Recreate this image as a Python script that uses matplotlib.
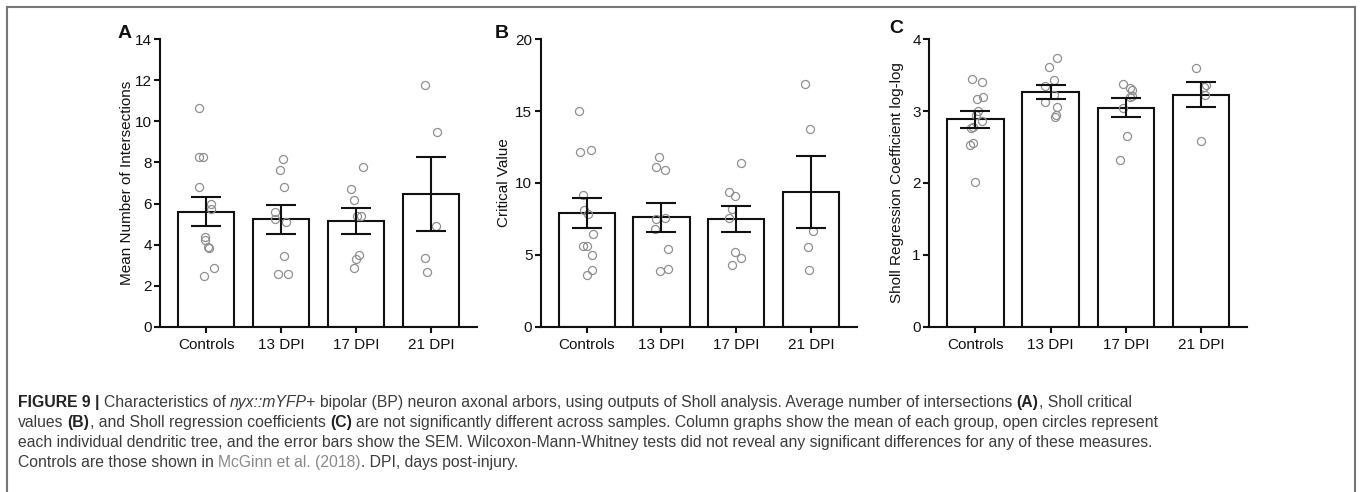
import matplotlib
matplotlib.use('Agg')
import matplotlib.pyplot as plt
from matplotlib.lines import Line2D
import numpy as np

plt.rcParams['font.family'] = ['Liberation Sans', 'DejaVu Sans']

groups = ['Controls', '13 DPI', '17 DPI', '21 DPI']

# panel A: mean number of intersections
a_mean = [5.60, 5.23, 5.15, 6.45]
a_sem = [0.71, 0.70, 0.64, 1.80]
a_points = [
    [10.64, 8.25, 8.25, 6.82, 5.98, 5.72, 4.35, 4.22, 3.88, 3.84, 2.84, 2.47],
    [8.15, 7.65, 6.80, 5.58, 5.26, 5.08, 3.44, 2.55, 2.57],
    [7.79, 6.71, 6.17, 5.39, 5.41, 3.51, 3.28, 2.87],
    [11.77, 9.50, 4.92, 3.33, 2.68],
]
a_jitter = [
    [-0.09, -0.09, -0.036, -0.093, 0.067, 0.067, -0.01, -0.02, 0.02, 0.035, 0.10, -0.03],
    [0.018, -0.022, 0.04, -0.084, -0.076, 0.067, 0.04, -0.044, 0.093],
    [0.089, -0.067, -0.036, 0.009, 0.062, 0.04, 0.0, -0.036],
    [-0.08, 0.076, 0.058, -0.089, -0.053],
]

# panel B: critical value
b_mean = [7.91, 7.62, 7.48, 9.38]
b_sem = [1.05, 1.01, 0.90, 2.53]
b_points = [
    [15.04, 12.19, 12.29, 9.19, 8.10, 7.86, 6.44, 5.61, 5.61, 4.97, 3.93, 3.60],
    [11.79, 11.08, 10.90, 7.49, 7.56, 6.82, 5.43, 3.89, 4.01],
    [11.41, 9.38, 9.07, 8.22, 7.58, 5.21, 4.76, 4.26],
    [16.88, 13.78, 6.68, 5.52, 3.96],
]
b_jitter = [
    [-0.098, -0.089, 0.053, -0.053, -0.036, 0.022, 0.089, -0.053, 0.009, 0.067, 0.067, 0.0],
    [-0.036, -0.071, 0.049, -0.067, 0.053, -0.093, 0.089, -0.018, 0.089],
    [0.067, -0.093, -0.022, -0.053, -0.098, -0.022, 0.062, -0.058],
    [-0.08, -0.009, 0.027, -0.044, -0.031],
]

# panel C: sholl regression coefficient
c_mean = [2.89, 3.27, 3.05, 3.23]
c_sem = [0.118, 0.10, 0.13, 0.172]
c_points = [
    [3.45, 3.41, 3.17, 3.20, 3.00, 2.86, 2.76, 2.56, 2.53, 2.01, 2.95, 2.78],
    [3.74, 3.62, 3.43, 3.35, 3.23, 3.13, 3.06, 2.94, 2.92],
    [3.38, 3.32, 3.29, 3.19, 3.21, 3.05, 2.65, 2.32],
    [3.60, 3.36, 3.23, 2.58, 3.33],
]
c_jitter = [
    [-0.049, 0.093, 0.022, 0.107, 0.031, 0.089, -0.053, -0.031, -0.067, -0.009, 0.013, -0.027],
    [0.08, -0.022, 0.044, -0.076, 0.044, -0.076, 0.08, 0.071, 0.053],
    [-0.044, 0.058, 0.084, 0.058, 0.084, -0.044, 0.022, -0.076],
    [-0.067, 0.071, 0.058, 0.0, 0.044],
]

W, H = 1360, 492
fig = plt.figure(figsize=(W / 100, H / 100), dpi=100)


def draw_panel(rect, means, sems, points, jitter, ymax, step, ylabel, label_x):
    ax = fig.add_axes(rect)
    x = np.arange(len(groups))
    ax.bar(x, means, width=0.75, color='white', edgecolor='#111111', linewidth=1.5, zorder=2)
    for i in range(len(groups)):
        ax.plot(x[i] + np.array(jitter[i]), points[i], 'o', mfc='none', mec='#8f8f8f',
                mew=0.9, ms=5.8, zorder=3, clip_on=False)
    ax.errorbar(x, means, yerr=sems, fmt='none', ecolor='#111111', elinewidth=1.5,
                capsize=11, capthick=1.5, zorder=4)
    ax.set_xlim(-0.615, 3.61)
    ax.set_ylim(0, ymax)
    ax.set_yticks(np.arange(0, ymax + step / 2, step))
    ax.set_xticks(x)
    ax.set_xticklabels(groups)
    for s in ['top', 'right']:
        ax.spines[s].set_visible(False)
    for s in ['left', 'bottom']:
        ax.spines[s].set_linewidth(1.5)
        ax.spines[s].set_color('#111111')
    ax.tick_params(axis='both', direction='out', length=4, width=1.5, color='#111111',
                   labelsize=11, labelcolor='#111111')
    ax.tick_params(axis='y', pad=2)
    ax.tick_params(axis='x', pad=4)
    ax.set_ylabel(ylabel, fontsize=11, color='#111111')
    ax.yaxis.set_label_coords(label_x, 0.5)
    return ax


def axes_rect(left_px, right_px):
    return [left_px / W, (H - 326.7) / H, (right_px - left_px) / W, 287.4 / H]


draw_panel(axes_rect(160, 477), a_mean, a_sem, a_points, a_jitter, 14, 2,
           'Mean Number of Intersections', -0.082)
draw_panel(axes_rect(540.7, 856.7), b_mean, b_sem, b_points, b_jitter, 20, 5,
           'Critical Value', -0.094)
draw_panel(axes_rect(929, 1247), c_mean, c_sem, c_points, c_jitter, 4, 1,
           'Sholl Regression Coefficient log-log', -0.079)

# panel letters
for letter, px, py in [('A', 125, 34), ('B', 501.7, 33), ('C', 896, 28.5)]:
    fig.text(px / W, 1 - py / H, letter, fontsize=14, fontweight='bold',
             ha='center', va='center', color='#111111')

# frame around the figure
frame_kw = dict(color='#767676', linewidth=1.5, transform=fig.transFigure)
fig.add_artist(Line2D([7 / W, 1355 / W], [1 - 7 / H, 1 - 7 / H], **frame_kw))
fig.add_artist(Line2D([7 / W, 7 / W], [0, 1 - 7 / H], **frame_kw))
fig.add_artist(Line2D([1355 / W, 1355 / W], [0, 1 - 7 / H], **frame_kw))

# caption, pieces chained left to right (flag: space before piece)
cap_ax = fig.add_axes([0, 0, 1, 1])
cap_ax.axis('off')
cap_size = 11.3
cap_color = '#3c3c3c'
styles = {
    'n': dict(color=cap_color),
    'b': dict(color='#222222', fontweight='bold'),
    'i': dict(color=cap_color, fontstyle='italic'),
    'l': dict(color='#8a8a8a'),
}
caption = [
    [('FIGURE 9 |', 'b', False), ('Characteristics of', 'n', True), ('nyx::mYFP+', 'i', True),
     ('bipolar (BP) neuron axonal arbors, using outputs of Sholl analysis. Average number of intersections', 'n', True),
     ('(A)', 'b', True), (', Sholl critical', 'n', False)],
    [('values', 'n', False), ('(B)', 'b', True), (', and Sholl regression coefficients', 'n', False),
     ('(C)', 'b', True),
     ('are not significantly different across samples. Column graphs show the mean of each group, open circles represent', 'n', True)],
    [('each individual dendritic tree, and the error bars show the SEM. Wilcoxon-Mann-Whitney tests did not reveal any significant differences for any of these measures.', 'n', False)],
    [('Controls are those shown in', 'n', False), ('McGinn et al. (2018)', 'l', True),
     ('. DPI, days post-injury.', 'n', False)],
]
baselines = [407.3, 427.2, 447.1, 467.0]
space = 0.26 * cap_size
for line, yb in zip(caption, baselines):
    prev = None
    for text, st, sp in line:
        if prev is None:
            prev = cap_ax.text(18 / W, 1 - yb / H, text, fontsize=cap_size, va='baseline',
                               ha='left', transform=fig.transFigure, **styles[st])
        else:
            prev = cap_ax.annotate(text, xy=(1, 0), xycoords=prev,
                                   xytext=(space if sp else 0.6, 0), textcoords='offset points',
                                   va='bottom', ha='left', fontsize=cap_size,
                                   annotation_clip=False, **styles[st])

fig.savefig('out.png', dpi=100, facecolor='white')
